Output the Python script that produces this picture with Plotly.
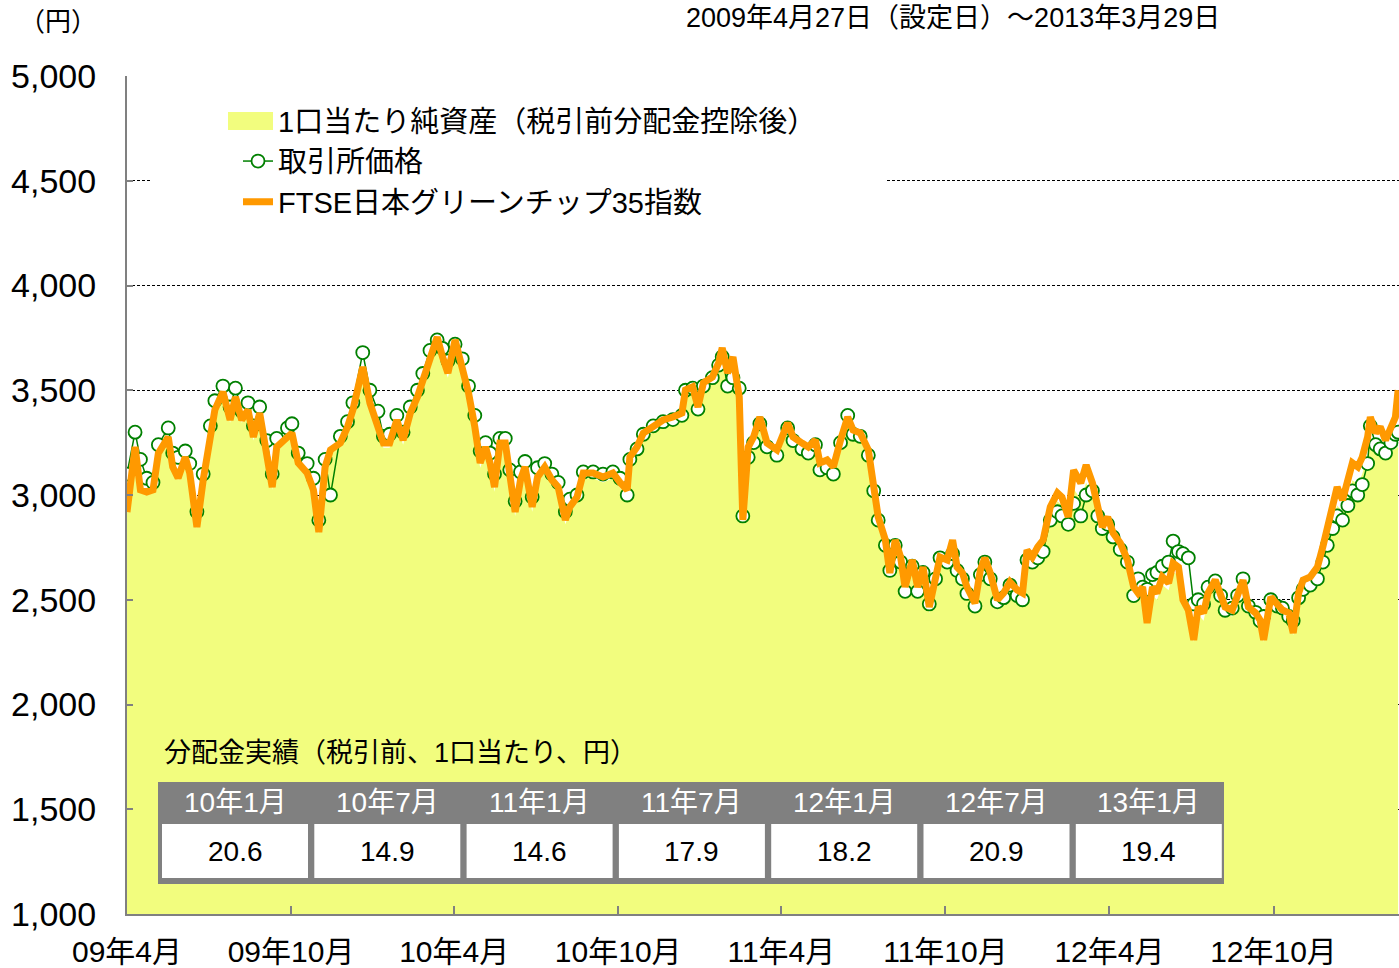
import plotly.graph_objects as go

# ---------------- data ----------------
dates = [
    "2009-04-27", "2009-05-06", "2009-05-12", "2009-05-19", "2009-05-26", "2009-06-01", "2009-06-12", "2009-06-17",
    "2009-06-23", "2009-07-01", "2009-07-06", "2009-07-14", "2009-07-21", "2009-07-29", "2009-08-03", "2009-08-12",
    "2009-08-20", "2009-08-26", "2009-09-02", "2009-09-09", "2009-09-15", "2009-09-22", "2009-09-30", "2009-10-06",
    "2009-10-11", "2009-10-23", "2009-10-28", "2009-11-04", "2009-11-14", "2009-11-21", "2009-11-27", "2009-12-04",
    "2009-12-10", "2009-12-21", "2009-12-29", "2010-01-04", "2010-01-15", "2010-01-23", "2010-02-01", "2010-02-07",
    "2010-02-14", "2010-02-22", "2010-03-01", "2010-03-09", "2010-03-17", "2010-03-23", "2010-03-31", "2010-04-08",
    "2010-04-14", "2010-04-20", "2010-04-28", "2010-05-06", "2010-05-13", "2010-05-20", "2010-05-26", "2010-06-01",
    "2010-06-06", "2010-06-11", "2010-06-17", "2010-06-23", "2010-06-28", "2010-07-04", "2010-07-10", "2010-07-15",
    "2010-07-23", "2010-07-29", "2010-08-06", "2010-08-14", "2010-08-21", "2010-08-29", "2010-09-03", "2010-09-11",
    "2010-09-18", "2010-09-29", "2010-10-10", "2010-10-21", "2010-10-29", "2010-11-06", "2010-11-09", "2010-11-17",
    "2010-11-24", "2010-12-05", "2010-12-16", "2010-12-27", "2011-01-06", "2011-01-10", "2011-01-18", "2011-01-24",
    "2011-01-30", "2011-02-09", "2011-02-16", "2011-02-20", "2011-02-26", "2011-03-04", "2011-03-11", "2011-03-15",
    "2011-03-21", "2011-03-27", "2011-04-03", "2011-04-11", "2011-04-22", "2011-05-04", "2011-05-10", "2011-05-20",
    "2011-05-27", "2011-06-04", "2011-06-09", "2011-06-17", "2011-06-24", "2011-07-02", "2011-07-10", "2011-07-16",
    "2011-07-24", "2011-08-02", "2011-08-08", "2011-08-13", "2011-08-21", "2011-08-26", "2011-09-01", "2011-09-07",
    "2011-09-12", "2011-09-20", "2011-09-26", "2011-10-02", "2011-10-09", "2011-10-16", "2011-10-21", "2011-10-29",
    "2011-11-04", "2011-11-09", "2011-11-15", "2011-11-20", "2011-11-29", "2011-12-05", "2011-12-10", "2011-12-16",
    "2011-12-24", "2011-12-31", "2012-01-07", "2012-01-15", "2012-01-21", "2012-01-26", "2012-02-01", "2012-02-07",
    "2012-02-13", "2012-02-21", "2012-02-29", "2012-03-05", "2012-03-12", "2012-03-18", "2012-03-26", "2012-04-01",
    "2012-04-08", "2012-04-14", "2012-04-19", "2012-04-25", "2012-05-01", "2012-05-09", "2012-05-17", "2012-05-24",
    "2012-05-29", "2012-06-03", "2012-06-08", "2012-06-14", "2012-06-19", "2012-06-25", "2012-07-02", "2012-07-07",
    "2012-07-13", "2012-07-18", "2012-07-24", "2012-07-30", "2012-08-04", "2012-08-10", "2012-08-15", "2012-08-23",
    "2012-08-29", "2012-09-03", "2012-09-11", "2012-09-17", "2012-09-23", "2012-09-29", "2012-10-07", "2012-10-12",
    "2012-10-16", "2012-10-24", "2012-10-31", "2012-11-06", "2012-11-13", "2012-11-18", "2012-11-24", "2012-11-29",
    "2012-12-07", "2012-12-15", "2012-12-21", "2012-12-26", "2013-01-01", "2013-01-06", "2013-01-12", "2013-01-18",
    "2013-01-23", "2013-01-29", "2013-02-03", "2013-02-09", "2013-02-12", "2013-02-18", "2013-02-23", "2013-03-01",
    "2013-03-07", "2013-03-12", "2013-03-15",
]

index_ftse = [
    2919, 3229, 3024, 3014, 3024, 3200, 3277, 3134,
    3081, 3181, 3105, 2847, 3072, 3296, 3406, 3492,
    3358, 3468, 3358, 3406, 3277, 3391, 3200, 3038,
    3229, 3277, 3296, 3153, 3105, 3024, 2823, 3134,
    3215, 3248, 3325, 3406, 3611, 3439, 3330, 3248,
    3248, 3358, 3262, 3391, 3468, 3549, 3659, 3754,
    3659, 3582, 3740, 3597, 3487, 3325, 3153, 3229,
    3153, 3038, 3248, 3248, 3086, 2919, 3072, 3134,
    2943, 3086, 3134, 3072, 3038, 2881, 2943, 2990,
    3105, 3105, 3086, 3105, 3060, 3024, 3181, 3229,
    3296, 3325, 3358, 3372, 3391, 3501, 3516, 3420,
    3535, 3563, 3630, 3702, 3582, 3659, 3468, 2881,
    3229, 3277, 3372, 3248, 3215, 3344, 3277, 3248,
    3229, 3262, 3153, 3167, 3134, 3262, 3372, 3310,
    3296, 3215, 3038, 2895, 2785, 2628, 2785, 2704,
    2561, 2690, 2561, 2656, 2465, 2628, 2704, 2690,
    2785, 2656, 2628, 2561, 2484, 2642, 2699, 2628,
    2499, 2532, 2585, 2547, 2532, 2737, 2704, 2752,
    2785, 2943, 3010, 2990, 2895, 3119, 3057, 3143,
    3057, 2943, 2847, 2895, 2819, 2771, 2690, 2561,
    2532, 2561, 2389, 2561, 2532, 2609, 2580, 2675,
    2656, 2499, 2451, 2308, 2465, 2437, 2532, 2594,
    2532, 2465, 2451, 2532, 2594, 2465, 2437, 2403,
    2308, 2513, 2484, 2451, 2437, 2341, 2532, 2594,
    2609, 2656, 2752, 2847, 2928, 3038, 2976, 3072,
    3153, 3134, 3181, 3277, 3372, 3296, 3325, 3262,
    3325, 3372, 3501,
]

exchange_price = [
    3100, 3300, 3170, 3080, 3060, 3240, 3320, 3200,
    3180, 3210, 3150, 2920, 3100, 3330, 3450, 3520,
    3420, 3510, 3400, 3440, 3330, 3420, 3260, 3100,
    3270, 3320, 3340, 3200, 3150, 3080, 2880, 3170,
    3000, 3280, 3350, 3440, 3680, 3500, 3400, 3280,
    3290, 3380, 3300, 3420, 3500, 3580, 3690, 3740,
    3700, 3640, 3720, 3650, 3520, 3380, 3210, 3250,
    3200, 3100, 3270, 3270, 3120, 2970, 3110, 3160,
    2990, 3130, 3150, 3100, 3060, 2920, 2980, 3000,
    3110, 3110, 3100, 3110, 3080, 3000, 3170, 3220,
    3290, 3330, 3350, 3360, 3380, 3500, 3510, 3410,
    3520, 3560, 3620, 3660, 3520, 3560, 3510, 2900,
    3180, 3250, 3340, 3230, 3190, 3320, 3260, 3220,
    3200, 3240, 3120, 3130, 3100, 3250, 3380, 3290,
    3280, 3190, 3020, 2880, 2760, 2640, 2760, 2680,
    2540, 2660, 2540, 2630, 2480, 2600, 2700, 2680,
    2720, 2640, 2600, 2530, 2470, 2620, 2680, 2600,
    2490, 2510, 2570, 2520, 2500, 2690, 2680, 2700,
    2730, 2880, 2920, 2900, 2860, 2960, 2900, 3000,
    3020, 2900, 2840, 2860, 2800, 2740, 2680, 2520,
    2600, 2560, 2550, 2620, 2630, 2660, 2680, 2780,
    2730, 2720, 2700, 2480, 2500, 2480, 2560, 2590,
    2520, 2450, 2460, 2520, 2600, 2470, 2440, 2400,
    2420, 2500, 2470, 2460, 2420, 2400, 2510, 2550,
    2570, 2600, 2680, 2760, 2840, 2900, 2880, 2950,
    3020, 3000, 3050, 3150, 3330, 3240, 3220, 3200,
    3250, 3290, 3300,
]

nav = [
    2930, 3210, 3010, 3000, 3010, 3185, 3260, 3120,
    3070, 3165, 3090, 2840, 3060, 3280, 3390, 3475,
    3345, 3450, 3345, 3390, 3260, 3375, 3185, 3025,
    3215, 3260, 3280, 3140, 3090, 3010, 2815, 3120,
    3200, 3230, 3310, 3390, 3590, 3420, 3310, 3225,
    3225, 3335, 3240, 3370, 3445, 3525, 3635, 3730,
    3635, 3560, 3715, 3575, 3465, 3300, 3130, 3205,
    3130, 3015, 3225, 3225, 3065, 2900, 3050, 3110,
    2920, 3065, 3110, 3050, 3015, 2860, 2920, 2965,
    3080, 3080, 3060, 3080, 3035, 3000, 3155, 3200,
    3270, 3300, 3330, 3345, 3365, 3475, 3490, 3395,
    3505, 3535, 3600, 3670, 3550, 3630, 3440, 2880,
    3190, 3245, 3340, 3215, 3185, 3310, 3245, 3215,
    3195, 3230, 3120, 3135, 3100, 3230, 3340, 3275,
    3260, 3180, 3005, 2860, 2750, 2595, 2750, 2670,
    2530, 2655, 2530, 2620, 2435, 2595, 2670, 2655,
    2750, 2620, 2595, 2530, 2450, 2610, 2665, 2595,
    2465, 2500, 2550, 2515, 2500, 2700, 2670, 2715,
    2750, 2905, 2970, 2950, 2860, 3030, 2980, 3060,
    2990, 2900, 2810, 2855, 2780, 2730, 2650, 2520,
    2495, 2520, 2450, 2520, 2500, 2570, 2545, 2630,
    2620, 2470, 2420, 2300, 2430, 2400, 2500, 2560,
    2500, 2430, 2420, 2500, 2560, 2430, 2400, 2370,
    2300, 2480, 2450, 2420, 2400, 2330, 2490, 2550,
    2565, 2610, 2700, 2790, 2870, 2950, 2920, 2990,
    3070, 3050, 3100, 3190, 3260, 3200, 3220, 3180,
    3210, 3220, 3230,
]

tick_dates = ["2009-04-27", "2009-10-27", "2010-04-27", "2010-10-27",
              "2011-04-27", "2011-10-27", "2012-04-27", "2012-10-27"]
tick_labels = ["09年4月", "09年10月", "10年4月", "10年10月",
               "11年4月", "11年10月", "12年4月", "12年10月"]
y_ticks = [1000, 1500, 2000, 2500, 3000, 3500, 4000, 4500, 5000]

dist_months = ["10年1月", "10年7月", "11年1月", "11年7月", "12年1月", "12年7月", "13年1月"]
dist_values = [20.6, 14.9, 14.6, 17.9, 18.2, 20.9, 19.4]

series_names = ["1口当たり純資産（税引前分配金控除後）", "取引所価格", "FTSE日本グリーンチップ35指数"]
period_text = "2009年4月27日（設定日）～2013年3月29日"
unit_text = "（円）"
table_title = "分配金実績（税引前、1口当たり、円）"

# ---------------- styling / layout ----------------
FONT = "Liberation Sans, Arial, Noto Sans CJK JP, sans-serif"
YELLOW = "#F2FD7E"
GREEN = "#008000"
ORANGE = "#FF9900"
GRAY = "#808080"

W, H = 1399, 968
ML, MR, MT, MB = 127, 0, 76, 54
PW, PH = W - ML - MR, H - MT - MB


def px_x(p):
    return (p - ML) / PW


def px_y(p):
    return (H - MB - p) / PH


fig = go.Figure()

fig.add_trace(go.Scatter(
    x=dates, y=nav, name=series_names[0], mode="lines",
    line=dict(width=0, color=YELLOW), fill="tozeroy", fillcolor=YELLOW,
))
fig.add_trace(go.Scatter(
    x=dates, y=exchange_price, name=series_names[1], mode="lines+markers",
    line=dict(width=1.5, color=GREEN),
    marker=dict(symbol="circle", size=13, color="white", line=dict(color=GREEN, width=1.8)),
))
fig.add_trace(go.Scatter(
    x=dates, y=index_ftse, name=series_names[2], mode="lines",
    line=dict(width=7, color=ORANGE),
))

shapes = []
annotations = []

# white box behind the legend (hides the 4,500 grid line there; no data passes through it)
shapes.append(dict(type="rect", xref="paper", yref="paper",
                   x0=px_x(150), x1=px_x(887), y0=px_y(262), y1=px_y(96),
                   fillcolor="white", line=dict(width=0), layer="above"))
# filled-area swatch for the NAV legend entry
shapes.append(dict(type="rect", xref="paper", yref="paper",
                   x0=px_x(228), x1=px_x(273), y0=px_y(130), y1=px_y(112),
                   fillcolor=YELLOW, line=dict(width=0), layer="above"))

# distribution table
T_L, T_R, T_T, T_B = 158, 1224, 782, 884
HEAD_B = 824
CELL_B = 878
PITCH = 152.3
CELL_W = 146
shapes.append(dict(type="rect", xref="paper", yref="paper",
                   x0=px_x(T_L), x1=px_x(T_R), y0=px_y(T_B), y1=px_y(T_T),
                   fillcolor=GRAY, line=dict(width=0), layer="above"))
for i, (m, v) in enumerate(zip(dist_months, dist_values)):
    cx0 = 162 + PITCH * i
    cx1 = cx0 + CELL_W
    shapes.append(dict(type="rect", xref="paper", yref="paper",
                       x0=px_x(cx0), x1=px_x(cx1), y0=px_y(CELL_B), y1=px_y(HEAD_B),
                       fillcolor="white", line=dict(width=0), layer="above"))
    cx = (cx0 + cx1) / 2
    annotations.append(dict(text=m, xref="paper", yref="paper", x=px_x(cx), y=px_y(802),
                            xanchor="center", yanchor="middle", showarrow=False,
                            font=dict(size=28, color="white")))
    annotations.append(dict(text=f"{v:.1f}", xref="paper", yref="paper", x=px_x(cx), y=px_y(851),
                            xanchor="center", yanchor="middle", showarrow=False,
                            font=dict(size=28, color="black")))

annotations += [
    dict(text=period_text, xref="paper", yref="paper", x=px_x(953), y=px_y(18),
         xanchor="center", yanchor="middle", showarrow=False, font=dict(size=27)),
    dict(text=unit_text, xref="paper", yref="paper", x=px_x(58), y=px_y(22),
         xanchor="center", yanchor="middle", showarrow=False, font=dict(size=26)),
    dict(text=table_title, xref="paper", yref="paper", x=px_x(162), y=px_y(753),
         xanchor="left", yanchor="middle", showarrow=False, font=dict(size=27)),
]

fig.update_layout(
    width=W, height=H,
    margin=dict(l=ML, r=MR, t=MT, b=MB, autoexpand=False),
    paper_bgcolor="white", plot_bgcolor="white",
    font=dict(family=FONT, size=28, color="black"),
    showlegend=True,
    legend=dict(x=px_x(238), y=px_y(95), xanchor="left", yanchor="top", bgcolor="rgba(0,0,0,0)",
                font=dict(size=29, family=FONT), tracegroupgap=0),
    xaxis=dict(
        type="date", range=["2009-04-27", "2013-03-16"],
        tickvals=tick_dates, ticktext=tick_labels,
        showgrid=False, zeroline=False,
        showline=True, linecolor=GRAY, linewidth=2,
        ticks="inside", ticklen=8, tickcolor=GRAY, tickwidth=1.5,
        tickfont=dict(size=30, family=FONT, color="black"),
        ticklabelstandoff=10,
    ),
    yaxis=dict(
        range=[1000, 5000], tickvals=y_ticks, tickformat=",d",
        showgrid=True, gridcolor="black", gridwidth=1, griddash="3px,2px",
        zeroline=False, showline=True, linecolor=GRAY, linewidth=2,
        ticks="inside", ticklen=6, tickcolor=GRAY, tickwidth=1.5,
        tickfont=dict(size=34, family=FONT, color="black"),
        ticklabelstandoff=22,
    ),
    shapes=shapes,
    annotations=annotations,
)

fig.write_html("out.html", config={"displayModeBar": False},
               post_script="document.body.style.margin='0';document.body.style.overflow='hidden';")
